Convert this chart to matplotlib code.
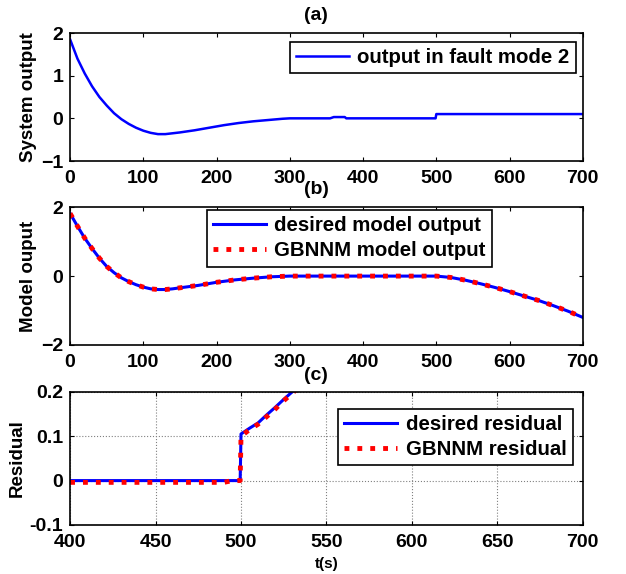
import numpy as np
import matplotlib.pyplot as plt

plt.rcParams['font.family'] = ['Liberation Sans', 'DejaVu Sans']
plt.rcParams['font.weight'] = 'bold'
plt.rcParams['axes.labelweight'] = 'bold'

# (a) sortie du systeme en mode de defaut 2
t_a = [0, 10, 20, 30, 40, 50, 60, 70, 80, 90, 100, 110, 120, 130, 140, 150,
       170, 190, 210, 230, 250, 270, 290, 300, 355, 360, 375, 377, 499, 500, 700]
y_a = [1.85, 1.4, 1.05, 0.75, 0.5, 0.3, 0.12, -0.02, -0.13, -0.22, -0.29, -0.34,
       -0.37, -0.37, -0.35, -0.33, -0.28, -0.22, -0.16, -0.11, -0.07, -0.04,
       -0.01, 0.0, 0.0, 0.03, 0.03, 0.0, 0.0, 0.1, 0.1]

# (b) sortie du modele
t_b = [0, 10, 20, 30, 40, 50, 60, 70, 80, 90, 100, 110, 120, 130, 140, 150,
       175, 200, 225, 250, 275, 300, 500, 520, 540, 560, 580, 600, 620, 640,
       660, 680, 700]
y_b_desired = [1.82, 1.45, 1.1, 0.8, 0.52, 0.28, 0.1, -0.05, -0.16, -0.25, -0.32,
               -0.37, -0.39, -0.39, -0.37, -0.34, -0.27, -0.18, -0.11, -0.06,
               -0.02, 0.0, 0.0, -0.04, -0.12, -0.22, -0.33, -0.45, -0.58, -0.71,
               -0.86, -1.02, -1.2]
y_b_gbnnm = list(y_b_desired)

# (c) residus
t_c_desired = [400, 499.5, 500, 505, 510, 515, 520, 525, 530, 540]
r_desired = [0.0, 0.0, 0.105, 0.118, 0.13, 0.148, 0.165, 0.183, 0.2, 0.235]
t_c_gbnnm = [400, 490, 495, 499.5, 500, 505, 510, 515, 520, 525, 530, 540]
r_gbnnm = [-0.004, -0.004, 0.0, 0.0, 0.1, 0.115, 0.127, 0.144, 0.161, 0.18, 0.197, 0.232]

fig = plt.figure(figsize=(6.26, 5.74), dpi=100)
ax1 = fig.add_axes([0.112, 0.7195, 0.819, 0.223])
ax2 = fig.add_axes([0.112, 0.399, 0.819, 0.240])
ax3 = fig.add_axes([0.112, 0.0854, 0.819, 0.232])

def habiller(ax):
    ax.tick_params(direction='in', length=3, top=True, right=True, labelsize=14, width=0.8)
    ax.tick_params(axis='x', pad=6.5)
    ax.tick_params(axis='y', pad=5)
    for s in ax.spines.values():
        s.set_linewidth(1.2)

leg_kw = dict(fancybox=False, framealpha=1, edgecolor='black', fontsize=14.7,
              handlelength=2.6, handletextpad=0.4, borderpad=0.3,
              labelspacing=0.3, borderaxespad=0)

ax1.plot(t_a, y_a, color='blue', lw=1.8, label='output in fault mode 2')
ax1.set_xlim(0, 700)
ax1.set_ylim(-1, 2)
ax1.set_yticks([-1, 0, 1, 2])
ax1.set_ylabel('System output', fontsize=13.5, labelpad=3)
habiller(ax1)
l1 = ax1.legend(loc='upper right', bbox_to_anchor=(0.986, 0.93), **leg_kw)
l1.get_frame().set_linewidth(1.2)

ax2.plot(t_b, y_b_desired, color='blue', lw=2.2, label='desired model output')
ax2.plot(t_b, y_b_gbnnm, color='red', lw=3.5, ls=':', label='GBNNM model output')
ax2.set_xlim(0, 700)
ax2.set_ylim(-2, 2)
ax2.set_yticks([-2, 0, 2])
ax2.set_ylabel('Model ouput', fontsize=13.5, labelpad=3)
habiller(ax2)
l2 = ax2.legend(loc='upper left', bbox_to_anchor=(0.267, 0.978), **leg_kw)
l2.get_frame().set_linewidth(1.2)

ax3.plot(t_c_desired, r_desired, color='blue', lw=2.2, label='desired residual')
ax3.plot(t_c_gbnnm, r_gbnnm, color='red', lw=3.5, ls=':', label='GBNNM residual')
ax3.set_xlim(400, 700)
ax3.set_ylim(-0.1, 0.2)
ax3.set_yticks([-0.1, 0, 0.1, 0.2])
ax3.set_yticklabels(['-0.1', '0', '0.1', '0.2'])
ax3.grid(True, color='gray', ls=':', lw=0.8)
ax3.set_ylabel('Residual', fontsize=13.5, labelpad=3)
ax3.set_xlabel('t(s)', fontsize=11, labelpad=4)
habiller(ax3)
l3 = ax3.legend(loc='upper right', bbox_to_anchor=(0.98, 0.872), **leg_kw)
l3.get_frame().set_linewidth(1.2)

fig.text(0.505, 1 - 16 / 574, '(a)', ha='center', va='center', fontsize=14, fontweight='bold')
fig.text(0.505, 1 - 189 / 574, '(b)', ha='center', va='center', fontsize=14, fontweight='bold')
fig.text(0.505, 1 - 375 / 574, '(c)', ha='center', va='center', fontsize=14, fontweight='bold')

fig.savefig('out.png', dpi=100)
